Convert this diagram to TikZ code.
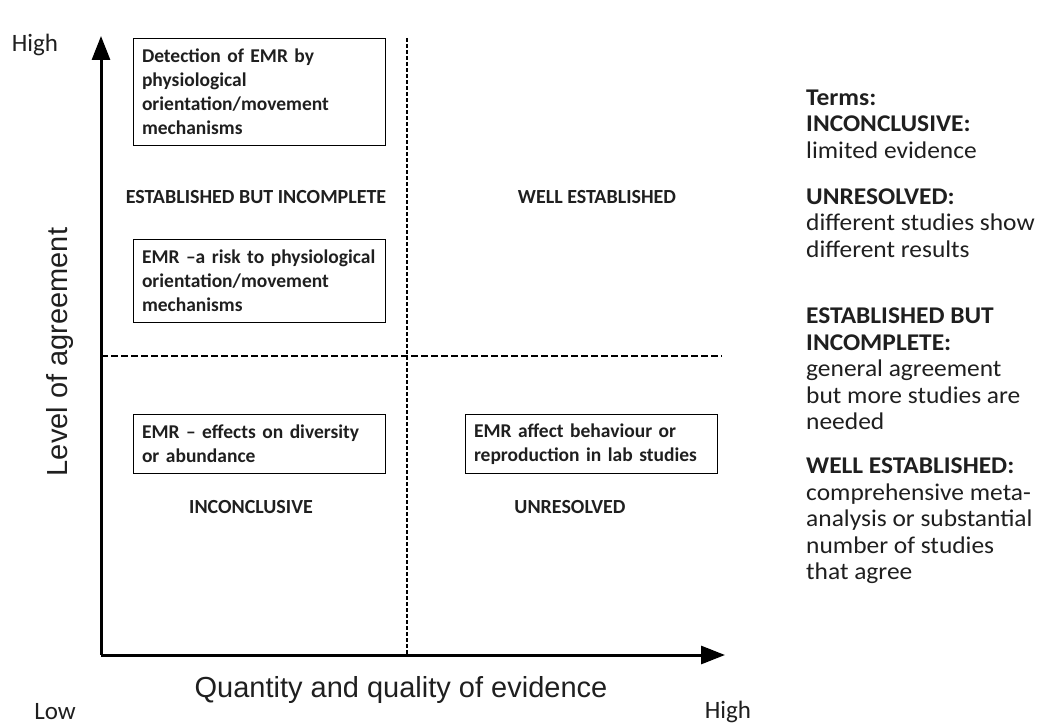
\documentclass[tikz,border=0pt]{standalone}
\usepackage{fontspec}
\setmainfont{Carlito}
\newfontfamily\arialf{Liberation Sans}
\newfontfamily\widef[FakeStretch=1.06]{Carlito}
\usetikzlibrary{arrows.meta}
\begin{document}
\begin{tikzpicture}[x=1pt,y=-1pt,
  box/.style={draw,line width=1pt,anchor=north west,inner xsep=8pt,inner ysep=0pt,align=left,
    font=\fontsize{19.5}{24}\selectfont\bfseries,text=black!88},
  quad/.style={font=\fontsize{20}{23}\selectfont\bfseries,text=black!88,inner sep=0pt},
  term/.style={anchor=west,align=left,inner sep=0pt,font=\widef\fontsize{24}{26.5}\selectfont,text=black!88},
  axis/.style={line width=3pt,-{Triangle[length=24pt,width=18pt]}},
  vdiv/.style={line width=1.2pt,dash pattern=on 4pt off 2pt},
  hdiv/.style={line width=1.2pt,dash pattern=on 7pt off 3pt},
  axlabel/.style={font=\arialf\fontsize{29}{34}\selectfont,text=black!88,inner sep=0pt},
  endlabel/.style={font=\fontsize{25}{30}\selectfont,text=black!88,inner sep=0pt}]
\useasboundingbox (0,0) rectangle (1038,725);
% coordinates
\coordinate (O) at (101,655);
\coordinate (ytop) at (101,36);
\coordinate (xend) at (725,655);
\coordinate (vtop) at (407,38);
\coordinate (vbot) at (407,655);
\coordinate (hl) at (101,356);
\coordinate (hr) at (722,356);
% dividers
\draw[vdiv] (vtop) -- (vbot);
\draw[hdiv] (hl) -- (hr);
% axes
\draw[axis] (O) -- (ytop);
\draw[axis] (O) -- (xend);
% boxes
\node[box,minimum width=252pt,minimum height=107pt,text width=235pt] (b1) at (133,38)
  {Detection of EMR by\\physiological\\orientation/movement\\mechanisms};
\node[box,minimum width=252pt,minimum height=83pt,text width=235pt] (b2) at (133,239)
  {\mbox{EMR –a risk to physiological}\\orientation/movement\\mechanisms};
\node[box,minimum width=252pt,minimum height=59pt,text width=235pt] (b3) at (133,414)
  {EMR – effects on diversity\\or abundance};
\node[box,minimum width=252pt,minimum height=59pt,text width=235pt] (b4) at (465,414)
  {EMR affect behaviour or\\reproduction in lab studies};
% quadrant labels
\node[quad] (q1) at (256,197) {ESTABLISHED BUT INCOMPLETE};
\node[quad] (q2) at (597,197) {WELL ESTABLISHED};
\node[quad] (q3) at (251,507) {INCONCLUSIVE};
\node[quad] (q4) at (570,507) {UNRESOLVED};
% axis labels
\node[axlabel,rotate=90] (ylab) at (60,352) {Level of agreement};
\node[axlabel] (xlab) at (401,690) {Quantity and quality of evidence};
\node[endlabel] (hi1) at (35,45) {High};
\node[endlabel] (lo) at (55,712) {Low};
\node[endlabel] (hi2) at (728,712) {High};
% terms
\node[term] (t1) at (806,124) {\textbf{Terms:}\\\textbf{INCONCLUSIVE:}\\limited evidence};
\node[term] (t2) at (806,223) {\textbf{UNRESOLVED:}\\different studies show\\different results};
\node[term] (t3) at (806,369) {\textbf{ESTABLISHED BUT}\\\textbf{INCOMPLETE:}\\general agreement\\but more studies are\\needed};
\node[term] (t4) at (806,521) {\textbf{WELL ESTABLISHED:}\\comprehensive meta-\\analysis or substantial\\number of studies\\that agree};
\end{tikzpicture}
\end{document}
